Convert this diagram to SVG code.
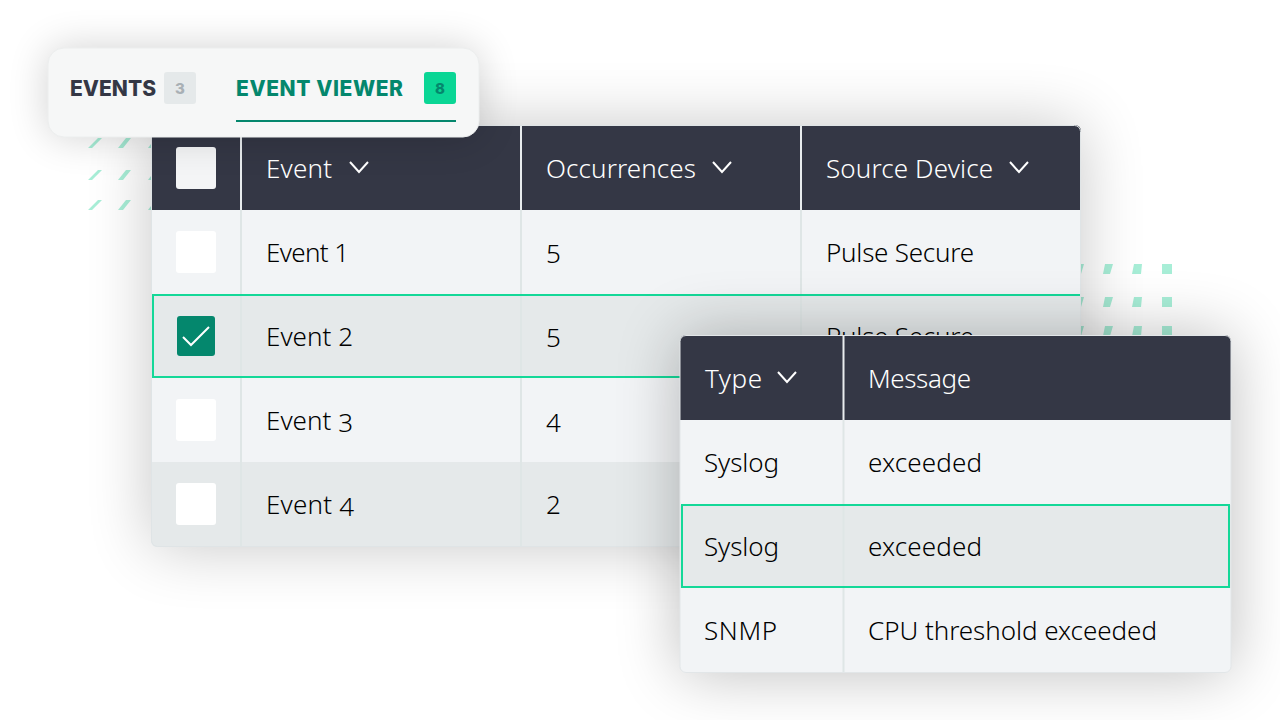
<svg xmlns="http://www.w3.org/2000/svg" width="1280" height="720" viewBox="0 0 1280 720">
<style>
text{font-family:"Noto Sans","Open Sans",sans-serif;font-size:26px;font-weight:300}
.h{fill:#fff}.b{fill:#000}
.tab{font-family:Inter,"Noto Sans",sans-serif;font-weight:800;font-size:21px}
.cnt{font-family:Inter,"Noto Sans",sans-serif;font-weight:800;font-size:15px;text-anchor:middle}
.chev{fill:none;stroke:#fff;stroke-width:2}
.lh{stroke:#e8ecee;stroke-width:2}.ll{stroke:#dfe6e6;stroke-width:2}
.sel{fill:none;stroke:#14d898;stroke-width:2}
</style>
<defs>
<filter id="bl1" filterUnits="userSpaceOnUse" x="0" y="0" width="1280" height="720"><feGaussianBlur stdDeviation="32"/></filter>
<filter id="bl2" filterUnits="userSpaceOnUse" x="0" y="0" width="1280" height="720"><feGaussianBlur stdDeviation="20"/></filter>
<clipPath id="c1"><rect x="151" y="125" width="930" height="422" rx="6"/></clipPath>
<clipPath id="c2"><rect x="680" y="335" width="551" height="338" rx="6"/></clipPath>
</defs>
<rect width="1280" height="720" fill="#fff"/>
<g id="dots" fill="#a8eed7">
<path d="M98 138h4l-10 10h-4zM126 138h5l-8 10h-5zM148 148l3-4v4zM98 170h4l-10 10h-4zM126 170h5l-8 10h-5zM148 180l3-4v4zM98 200h4l-10 10h-4zM126 200h5l-8 10h-5zM148 210l3-4v4z"/>
<path d="M1081 264h3l-3 10zM1105 264h8l-3 10h-7zM1134 264h8l-1 10h-9zM1162 264h10v10h-10zM1081 297h3l-3 10zM1105 297h8l-3 10h-7zM1134 297h8l-1 10h-9zM1162 297h10v10h-10zM1081 326h3l-3 10zM1105 326h8l-3 10h-7zM1134 326h8l-1 10h-9zM1162 326h10v10h-10z"/>
</g>
<g id="event-table">
<rect x="151" y="125" width="930" height="422" rx="6" fill="#000" opacity=".22" filter="url(#bl1)"/>
<rect x="151" y="125" width="930" height="422" rx="6" fill="#f2f4f6"/>
<g clip-path="url(#c1)">
<rect x="151" y="125" width="930" height="85" fill="#343745"/>
<rect x="151" y="295" width="930" height="83" fill="#e5e9ea"/>
<rect x="151" y="462" width="930" height="85" fill="#e5e9ea"/>
<path class="lh" d="M241 125v85M521 125v85M801 125v85"/>
<path class="ll" d="M241 210v337M521 210v337M801 210v337"/>
<rect x="153" y="295" width="940" height="82" class="sel"/>
</g>
<rect x="151.500" y="125.500" width="929" height="421" rx="6" fill="none" stroke="#dfe4e6"/>
<rect x="176" y="147" width="40" height="42" rx="3" fill="#f4f5f6"/>
<rect x="176" y="231" width="40" height="42" rx="3" fill="#fff"/>
<rect x="177" y="316" width="38" height="40" rx="3" fill="#04876d"/>
<path d="M183 337l8 8 18-18" fill="none" stroke="#fff" stroke-width="2"/>
<rect x="176" y="399" width="40" height="42" rx="3" fill="#fff"/>
<rect x="176" y="483" width="40" height="42" rx="3" fill="#fff"/>
<text class="h" x="266" y="178" textLength="66">Event</text><path class="chev" d="M350 162l9 10 9-10"/>
<text class="h" x="546" y="178" textLength="150">Occurrences</text><path class="chev" d="M713 162l9 10 9-10"/>
<text class="h" x="826" y="178" textLength="167">Source Device</text><path class="chev" d="M1010 162l9 10 9-10"/>
<text class="b" x="266" y="262" textLength="83">Event 1</text><text class="b" x="546" y="263">5</text><text class="b" x="826" y="262" textLength="148">Pulse Secure</text>
<text class="b" x="266" y="346" textLength="87">Event 2</text><text class="b" x="546" y="347">5</text><text class="b" x="826" y="346" textLength="148">Pulse Secure</text>
<text class="b" x="266" y="430" textLength="87">Event <tspan dy="2">3</tspan></text><text class="b" x="546" y="432">4</text>
<text class="b" x="266" y="514" textLength="88">Event <tspan dy="2">4</tspan></text><text class="b" x="546" y="514">2</text>
</g>
<g id="tabs">
<rect x="48" y="48" width="431" height="89" rx="16" fill="#000" opacity=".18" filter="url(#bl2)"/>
<rect x="48" y="48" width="431" height="89" rx="16" fill="#f6f7f7" stroke="#eceeee"/>
<text class="tab" x="70" y="96" fill="#343745" textLength="86">EVENTS</text>
<rect x="164" y="72" width="32" height="32" rx="3" fill="#e5e9ea"/>
<text class="cnt" x="180" y="94" fill="#a9b0b5">3</text>
<text class="tab" x="236" y="96" fill="#04876d" textLength="167">EVENT VIEWER</text>
<rect x="424" y="72" width="32" height="32" rx="3" fill="#0ad695"/>
<text class="cnt" x="440" y="94" fill="#04876d">8</text>
<rect x="236" y="120" width="220" height="2" fill="#04876d"/>
</g>
<g id="detail-table">
<rect x="680" y="335" width="551" height="338" rx="6" fill="#000" opacity=".26" filter="url(#bl1)"/>
<rect x="680" y="335" width="551" height="338" rx="6" fill="#f2f4f6"/>
<g clip-path="url(#c2)">
<rect x="680" y="335" width="551" height="85" fill="#343745"/>
<rect x="680" y="505" width="551" height="83" fill="#e5e9ea"/>
<path class="lh" d="M843.500 335v85"/>
<path class="ll" d="M843.500 420v253"/>
<rect x="682" y="505" width="547" height="82" class="sel"/>
</g>
<rect x="680" y="335.500" width="551" height="337" rx="6" fill="none" stroke="#e2e6e8"/>
<text class="h" x="705" y="388" textLength="57">Type</text><path class="chev" d="M778 372l9 10 9-10"/>
<text class="h" x="868" y="388" textLength="103">Message</text>
<text class="b" x="704" y="472" textLength="75">Syslog</text><text class="b" x="868" y="472" textLength="114">exceeded</text>
<text class="b" x="704" y="556" textLength="75">Syslog</text><text class="b" x="868" y="556" textLength="114">exceeded</text>
<text class="b" x="704" y="640" textLength="73">SNMP</text><text class="b" x="868" y="640" textLength="289">CPU threshold exceeded</text>
</g>
</svg>
